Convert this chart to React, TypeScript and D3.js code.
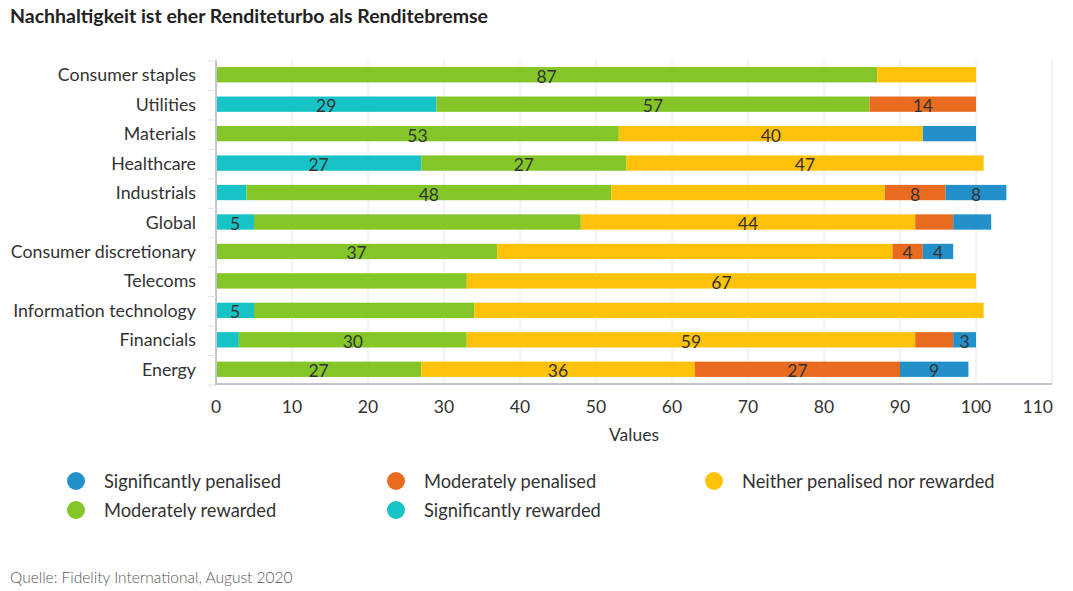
import * as d3 from "d3";
import React, { useCallback } from "react";

const categories = [
  "Consumer staples",
  "Utilities",
  "Materials",
  "Healthcare",
  "Industrials",
  "Global",
  "Consumer discretionary",
  "Telecoms",
  "Information technology",
  "Financials",
  "Energy",
];

// stacked left to right
const sigRewarded = [0, 29, 0, 27, 4, 5, 0, 0, 5, 3, 0];
const modRewarded = [87, 57, 53, 27, 48, 43, 37, 33, 29, 30, 27];
const neither = [13, 0, 40, 47, 36, 44, 52, 67, 67, 59, 36];
const modPenalised = [0, 14, 0, 0, 8, 5, 4, 0, 0, 5, 27];
const sigPenalised = [0, 0, 7, 0, 8, 5, 4, 0, 0, 3, 9];

// which segment values carry a label in the original
const sigRewardedShown = [0, 1, 0, 1, 0, 1, 0, 0, 1, 0, 0];
const modRewardedShown = [1, 1, 1, 1, 1, 0, 1, 0, 0, 1, 1];
const neitherShown = [0, 0, 1, 1, 0, 1, 0, 1, 0, 1, 1];
const modPenalisedShown = [0, 1, 0, 0, 1, 0, 1, 0, 0, 0, 1];
const sigPenalisedShown = [0, 0, 0, 0, 1, 0, 1, 0, 0, 1, 1];

const xTicks = [0, 10, 20, 30, 40, 50, 60, 70, 80, 90, 100, 110];

const series = [
  { key: "sigRewarded", name: "Significantly rewarded", values: sigRewarded, shown: sigRewardedShown, color: "#17C3C6" },
  { key: "modRewarded", name: "Moderately rewarded", values: modRewarded, shown: modRewardedShown, color: "#84C628" },
  { key: "neither", name: "Neither penalised nor rewarded", values: neither, shown: neitherShown, color: "#FFC20A" },
  { key: "modPenalised", name: "Moderately penalised", values: modPenalised, shown: modPenalisedShown, color: "#E96B1F" },
  { key: "sigPenalised", name: "Significantly penalised", values: sigPenalised, shown: sigPenalisedShown, color: "#2490C9" },
];

// legend order as in the picture (row-wise, 3 columns)
const legendOrder = ["sigPenalised", "modPenalised", "neither", "modRewarded", "sigRewarded"];

const FONT = "Lato, 'Open Sans', sans-serif";

function drawChart(node: SVGSVGElement | null) {
  if (!node) return;
  const svg = d3.select(node);
  svg.selectAll("*").remove();

  const left = 216,
    right = 1052,
    top = 60,
    bottom = 384;

  const x = d3.scaleLinear().domain([0, 110]).range([left, right]);
  const y = d3.scaleBand().domain(categories).range([top, bottom]).paddingInner(0.48).paddingOuter(0.24);

  // title
  svg
    .append("text")
    .attr("x", 10)
    .attr("y", 23)
    .attr("font-family", FONT)
    .attr("font-weight", "bold")
    .attr("font-size", 19.5)
    .attr("fill", "#222")
    .text("Nachhaltigkeit ist eher Renditeturbo als Renditebremse");

  // grid
  svg
    .append("g")
    .selectAll("line")
    .data(xTicks.slice(1))
    .join("line")
    .attr("x1", d => x(d))
    .attr("x2", d => x(d))
    .attr("y1", top)
    .attr("y2", bottom)
    .attr("stroke", "#e6e6e6")
    .attr("stroke-width", 1);

  // stacked data
  const rows = categories.map((c, i) => {
    const r: any = { category: c };
    series.forEach(s => (r[s.key] = s.values[i]));
    return r;
  });
  const stacked = d3.stack().keys(series.map(s => s.key))(rows);

  const layer = svg
    .append("g")
    .selectAll("g")
    .data(stacked)
    .join("g")
    .attr("fill", (d, i) => series[i].color);

  layer
    .selectAll("rect")
    .data(d => d)
    .join("rect")
    .attr("x", d => x(d[0]))
    .attr("y", d => y(d.data.category as string)!)
    .attr("width", d => x(d[1]) - x(d[0]))
    .attr("height", y.bandwidth());

  // data labels
  stacked.forEach((st, si) => {
    svg
      .append("g")
      .selectAll("text")
      .data(st.filter((d, i) => series[si].shown[i] && d[1] - d[0] > 0))
      .join("text")
      .attr("x", d => x((d[0] + d[1]) / 2))
      .attr("y", d => y(d.data.category as string)! + y.bandwidth() / 2 + 8)
      .attr("text-anchor", "middle")
      .attr("font-family", FONT)
      .attr("font-size", 17.5)
      .attr("fill", "#333")
      .text(d => d[1] - d[0]);
  });

  // left axis
  const step = y.step();
  svg
    .append("line")
    .attr("x1", left)
    .attr("x2", left)
    .attr("y1", top)
    .attr("y2", bottom)
    .attr("stroke", "#c4c4cc")
    .attr("stroke-width", 2);
  svg
    .append("g")
    .selectAll("line")
    .data(d3.range(categories.length + 1))
    .join("line")
    .attr("x1", left - 8)
    .attr("x2", left)
    .attr("y1", i => top + 1 + i * step)
    .attr("y2", i => top + 1 + i * step)
    .attr("stroke", "#e0e0e6")
    .attr("stroke-width", 1);

  svg
    .append("g")
    .selectAll("text")
    .data(categories)
    .join("text")
    .attr("x", 196)
    .attr("y", d => y(d)! + y.bandwidth() / 2 + 6.5)
    .attr("text-anchor", "end")
    .attr("font-family", FONT)
    .attr("font-size", 17.8)
    .attr("fill", "#333")
    .text(d => d);

  // bottom axis
  svg
    .append("line")
    .attr("x1", left - 1)
    .attr("x2", right)
    .attr("y1", bottom)
    .attr("y2", bottom)
    .attr("stroke", "#c4c4cc")
    .attr("stroke-width", 2);

  svg
    .append("g")
    .selectAll("text")
    .data(xTicks)
    .join("text")
    .attr("x", (d, i) => (i === xTicks.length - 1 ? right + 1 : x(d)))
    .attr("y", 413)
    .attr("text-anchor", (d, i) => (i === xTicks.length - 1 ? "end" : "middle"))
    .attr("font-family", FONT)
    .attr("font-size", 17.5)
    .attr("fill", "#333")
    .text(d => d);

  svg
    .append("text")
    .attr("x", (left + right) / 2)
    .attr("y", 441)
    .attr("text-anchor", "middle")
    .attr("font-family", FONT)
    .attr("font-size", 17.5)
    .attr("fill", "#333")
    .text("Values");

  // legend
  const colX = [76, 396, 714];
  const rowY = [481, 510];
  const legend = svg
    .append("g")
    .selectAll("g")
    .data(legendOrder.map(k => series.find(s => s.key === k)!))
    .join("g")
    .attr("transform", (d, i) => `translate(${colX[i % 3]},${rowY[Math.floor(i / 3)]})`);
  legend.append("circle").attr("r", 9).attr("fill", d => d.color);
  legend
    .append("text")
    .attr("x", 28)
    .attr("y", 6.5)
    .attr("font-family", FONT)
    .attr("font-size", 18.3)
    .attr("fill", "#333")
    .text(d => d.name);

  // source
  svg
    .append("text")
    .attr("x", 10)
    .attr("y", 583)
    .attr("font-family", FONT)
    .attr("font-size", 15.5)
    .attr("font-weight", 300)
    .attr("fill", "#555")
    .text("Quelle: Fidelity International, August 2020");
}

export default function App() {
  const svg = useCallback((node: SVGSVGElement | null) => {
    drawChart(node);
  }, []);

  return (
    <svg
      ref={svg}
      width={1073}
      height={591}
      style={{ position: "absolute", left: 0, top: 0, background: "#fff" }}
    />
  );
}
